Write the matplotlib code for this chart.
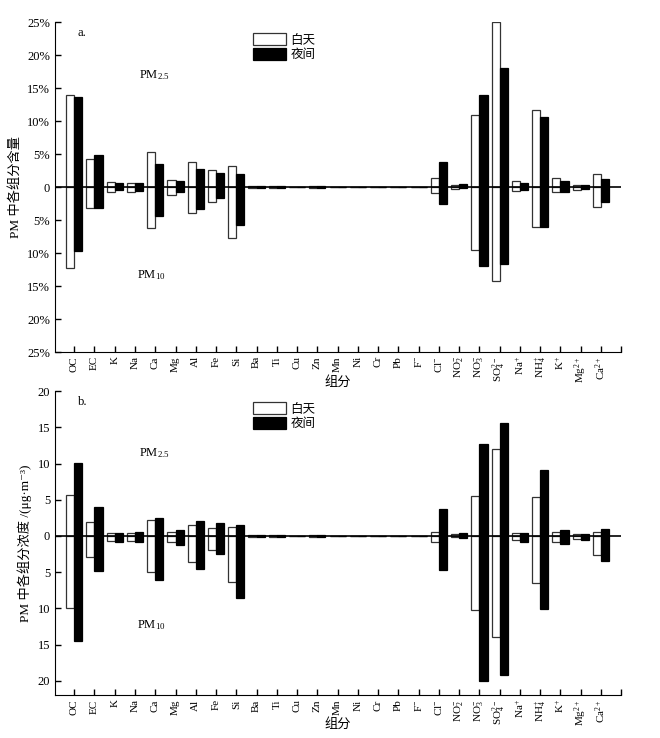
import numpy as np
import matplotlib
matplotlib.use("Agg")
import matplotlib.pyplot as plt

plt.rcParams['font.family'] = ['Liberation Serif', 'Noto Sans CJK SC', 'DejaVu Sans']
plt.rcParams['mathtext.fontset'] = 'custom'
plt.rcParams['mathtext.rm'] = 'Liberation Serif'
plt.rcParams['mathtext.it'] = 'Liberation Serif'
plt.rcParams['axes.unicode_minus'] = False

# 组分
labels = ['OC', 'EC', 'K', 'Na', 'Ca', 'Mg', 'Al', 'Fe', 'Si', 'Ba', 'Ti', 'Cu', 'Zn',
          'Mn', 'Ni', 'Cr', 'Pb', r'F$^{-}$', r'Cl$^{-}$', r'NO$_2^{-}$', r'NO$_3^{-}$',
          r'SO$_4^{2-}$', r'Na$^{+}$', r'NH$_4^{+}$', r'K$^{+}$', r'Mg$^{2+}$', r'Ca$^{2+}$']

# a. 含量 (%)  PM2.5 (上) / PM10 (下)
day_pm25_pct = [13.9, 4.24, 0.8, 0.65, 5.3, 1.1, 3.8, 2.6, 3.2, 0.12, 0.12, 0.02, 0.12,
                0.03, 0.03, 0.03, 0.03, 0.03, 1.35, 0.3, 10.85, 25.0, 0.9, 11.65, 1.35, 0.3, 1.95]
night_pm25_pct = [13.7, 4.85, 0.55, 0.6, 3.55, 0.85, 2.8, 2.1, 2.05, 0.1, 0.12, 0.02, 0.12,
                  0.03, 0.03, 0.03, 0.03, 0.03, 3.8, 0.45, 13.9, 18.0, 0.65, 10.65, 0.95, 0.25, 1.15]
day_pm10_pct = [12.3, 3.2, 0.75, 0.75, 6.15, 1.15, 3.95, 2.3, 7.7, 0.12, 0.12, 0.02, 0.12,
                0.03, 0.03, 0.03, 0.03, 0.03, 0.9, 0.3, 9.55, 14.25, 0.6, 6.0, 0.8, 0.5, 3.0]
night_pm10_pct = [9.75, 3.1, 0.5, 0.55, 4.35, 0.8, 3.3, 1.7, 5.8, 0.1, 0.12, 0.02, 0.12,
                  0.03, 0.03, 0.03, 0.03, 0.03, 2.6, 0.2, 12.0, 11.65, 0.5, 6.1, 0.7, 0.35, 2.3]

# b. 浓度 (μg/m3)
day_pm25_conc = [5.7, 1.9, 0.37, 0.37, 2.25, 0.5, 1.45, 1.15, 1.3, 0.1, 0.08, 0.02, 0.12,
                 0.03, 0.03, 0.03, 0.03, 0.03, 0.55, 0.2, 5.5, 11.95, 0.37, 5.4, 0.55, 0.25, 0.6]
night_pm25_conc = [10.1, 3.95, 0.45, 0.55, 2.45, 0.75, 2.1, 1.85, 1.5, 0.1, 0.08, 0.02, 0.15,
                   0.03, 0.03, 0.03, 0.03, 0.03, 3.7, 0.35, 12.75, 15.65, 0.45, 9.15, 0.8, 0.25, 0.9]
day_pm10_conc = [10.0, 2.9, 0.75, 0.7, 5.05, 0.9, 3.55, 2.0, 6.3, 0.1, 0.12, 0.02, 0.15,
                 0.03, 0.03, 0.03, 0.03, 0.03, 0.9, 0.2, 10.2, 13.9, 0.6, 6.5, 0.85, 0.4, 2.6]
night_pm10_conc = [14.5, 4.85, 0.85, 0.85, 6.1, 1.2, 4.55, 2.45, 8.55, 0.1, 0.15, 0.02, 0.2,
                   0.03, 0.03, 0.03, 0.03, 0.03, 4.75, 0.35, 20.1, 19.25, 0.9, 10.1, 1.1, 0.5, 3.4]

x = np.arange(len(labels))
w = 0.4

fig = plt.figure(figsize=(6.6, 7.38), dpi=100)
ax1 = fig.add_axes([0.0833, 0.523, 0.858, 0.447])
ax2 = fig.add_axes([0.0833, 0.058, 0.858, 0.412])
ax2.patch.set_visible(False)


def draw(ax, d25, n25, d10, n10, ylim, yticks, yticklabels, ylabel, tag):
    d25 = np.array(d25); n25 = np.array(n25)
    d10 = np.array(d10); n10 = np.array(n10)
    ax.bar(x - w / 2, d25, w, color='white', edgecolor='#333333', linewidth=0.9, label='白天')
    ax.bar(x + w / 2, n25, w, color='black', edgecolor='black', linewidth=0.9, label='夜间')
    ax.bar(x - w / 2, -d10, w, color='white', edgecolor='#333333', linewidth=0.9)
    ax.bar(x + w / 2, -n10, w, color='black', edgecolor='black', linewidth=0.9)
    ax.axhline(0, color='black', linewidth=1.2, zorder=5)
    ax.set_xlim(-0.95, 27)
    ax.set_ylim(*ylim)
    ax.set_xticks(np.arange(len(labels) + 1))
    ax.set_xticklabels(labels + [''], rotation=90, fontsize=8)
    ax.set_yticks(yticks)
    ax.set_yticklabels(yticklabels, fontsize=9)
    ax.spines['top'].set_visible(False)
    ax.spines['right'].set_visible(False)
    ax.tick_params(direction='in', length=4, width=1)
    ax.tick_params(axis='x', pad=3)
    ax.set_ylabel(ylabel, fontsize=9.5)
    ax.set_xlabel('组分', fontsize=9.5)
    ax.xaxis.set_label_coords(0.5, -0.074)
    ax.text(0.04, 0.985, tag, transform=ax.transAxes, fontsize=9, va='top')
    ax.legend(loc='upper left', bbox_to_anchor=(0.33, 1.0), frameon=False,
              fontsize=9, handlelength=2.6, handleheight=1.1, handletextpad=0.4,
              labelspacing=0.1)


pct_ticks = [-25, -20, -15, -10, -5, 0, 5, 10, 15, 20, 25]
pct_labels = ['25%', '20%', '15%', '10%', '5%', '0', '5%', '10%', '15%', '20%', '25%']
draw(ax1, day_pm25_pct, night_pm25_pct, day_pm10_pct, night_pm10_pct,
     (-25, 25), pct_ticks, pct_labels, 'PM 中各组分含量', 'a.')
ax1.text(3.2, 16.5, r'PM$_{2.5}$', fontsize=9)
ax1.text(3.1, -13.8, r'PM$_{10}$', fontsize=9)

conc_ticks = [-20, -15, -10, -5, 0, 5, 10, 15, 20]
conc_labels = ['20', '15', '10', '5', '0', '5', '10', '15', '20']
draw(ax2, day_pm25_conc, night_pm25_conc, day_pm10_conc, night_pm10_conc,
     (-22, 20), conc_ticks, conc_labels, 'PM 中各组分浓度 /(μg·m⁻³)', 'b.')
ax2.text(3.2, 11.0, r'PM$_{2.5}$', fontsize=9)
ax2.text(3.1, -12.7, r'PM$_{10}$', fontsize=9)

fig.savefig('out.png', dpi=100)
